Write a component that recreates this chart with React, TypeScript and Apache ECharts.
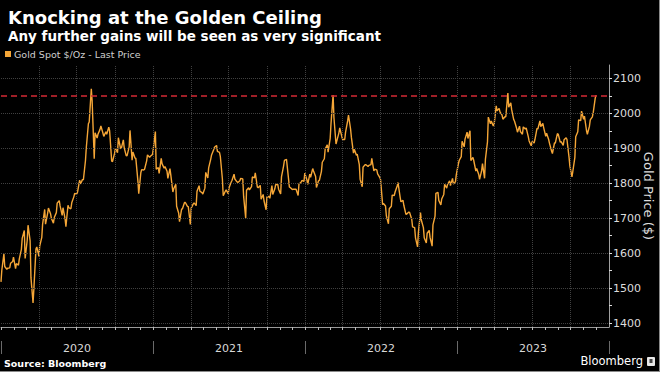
import React, { useEffect, useRef } from "react";
import * as echarts from "echarts";

// Gold spot $/oz, two readings per week (Wednesday, Friday), from week of 2020-01-01
const goldPrices: number[] = [
  // 2020
  1518, 1552, 1598, 1562, 1554, 1557, 1558, 1571, 1576, 1589,
  1556, 1570, 1566, 1584, 1611, 1643, 1665, 1585, 1637, 1680,
  1635, 1530, 1458, 1498, 1612, 1618, 1591, 1620, 1645, 1683,
  1725, 1683, 1714, 1729, 1713, 1700, 1686, 1702, 1716, 1743,
  1750, 1735, 1708, 1730, 1698, 1676, 1737, 1730, 1727, 1744,
  1761, 1771, 1769, 1775, 1809, 1798, 1811, 1810, 1865, 1902,
  1970, 1975, 2070, 2035, 1870, 1944, 1929, 1940, 1954, 1964,
  1943, 1934, 1947, 1940, 1960, 1950, 1863, 1862, 1886, 1900,
  1887, 1930, 1901, 1899, 1924, 1902, 1878, 1879, 1904, 1951,
  1866, 1889, 1872, 1871, 1806, 1770, 1830, 1839, 1838, 1840,
  1864, 1881, 1874, 1877, 1882, 1898,
  // 2021
  1948, 1840, 1845, 1828, 1871, 1856, 1843, 1848, 1834, 1814,
  1842, 1824, 1775, 1784, 1797, 1734, 1714, 1690, 1726, 1727,
  1745, 1745, 1734, 1733, 1682, 1729, 1741, 1744, 1736, 1777,
  1793, 1777, 1773, 1769, 1786, 1831, 1815, 1844, 1869, 1881,
  1896, 1903, 1908, 1891, 1888, 1877, 1812, 1764, 1777, 1781,
  1770, 1787, 1803, 1808, 1826, 1812, 1804, 1802, 1807, 1814,
  1812, 1763, 1700, 1780, 1787, 1781, 1790, 1818, 1815, 1830,
  1789, 1787, 1794, 1754, 1768, 1750, 1724, 1761, 1762, 1757,
  1793, 1768, 1784, 1796, 1797, 1783, 1769, 1818, 1849, 1865,
  1868, 1846, 1789, 1788, 1782, 1783, 1783, 1783, 1765, 1798,
  1803, 1808, 1805, 1829,
  // 2022
  1810, 1797, 1826, 1817, 1842, 1835, 1819, 1788, 1807, 1808,
  1834, 1860, 1870, 1898, 1910, 1889, 1928, 1970, 2052, 1988,
  1912, 1921, 1944, 1958, 1933, 1925, 1925, 1946, 1978, 1995,
  1955, 1931, 1886, 1897, 1880, 1883, 1853, 1811, 1790, 1846,
  1853, 1853, 1848, 1851, 1853, 1871, 1835, 1840, 1838, 1827,
  1817, 1811, 1739, 1742, 1735, 1707, 1684, 1727, 1734, 1766,
  1765, 1775, 1792, 1802, 1761, 1747, 1751, 1737, 1711, 1712,
  1718, 1716, 1697, 1675, 1673, 1644, 1618, 1660, 1716, 1695,
  1673, 1644, 1629, 1657, 1665, 1645, 1620, 1681, 1706, 1771,
  1774, 1751, 1738, 1755, 1768, 1797, 1786, 1797, 1807, 1793,
  1814, 1798, 1804, 1824,
  // 2023
  1855, 1865, 1876, 1920, 1904, 1926, 1946, 1928, 1950, 1865,
  1874, 1865, 1835, 1842, 1825, 1811, 1836, 1856, 1814, 1868,
  1918, 1989, 1970, 1978, 1964, 1969, 2021, 2007, 2014, 2004,
  1995, 1983, 1990, 1990, 2058, 2017, 2030, 2011, 1982, 1977,
  1957, 1946, 1963, 1948, 1940, 1961, 1955, 1958, 1933, 1921,
  1907, 1919, 1915, 1925, 1957, 1955, 1978, 1962, 1971, 1959,
  1934, 1943, 1925, 1914, 1892, 1885, 1915, 1915, 1942, 1940,
  1917, 1919, 1908, 1924, 1930, 1925, 1874, 1849, 1818, 1833,
  1874, 1933, 1947, 1981, 1979, 2006, 1983, 1992, 1950, 1940,
  1963, 1981, 1990, 2001, 2044, 2052,
];

const years = ["2020", "2021", "2022", "2023"];
const yTickValues = [1400, 1450, 1500, 1550, 1600, 1650, 1700, 1750, 1800, 1850, 1900, 1950, 2000, 2050, 2100];
const yLabelValues = [1400, 1500, 1600, 1700, 1800, 1900, 2000, 2100];
const ceilingLevel = 2050;
const yMin = 1389;
const yMax = 2138;

const DAY = 86400000;
const startMs = Date.UTC(2020, 0, 1);
const endMs = Date.UTC(2024, 0, 1);

const seriesData = goldPrices.map((v, i) => {
  const week = Math.floor(i / 2);
  const dayOffset = week * 7 + (i % 2 === 0 ? 0 : 2);
  return [startMs + dayOffset * DAY, v];
});

const monthTicks: number[] = [];
const quarterLines: number[] = [];
for (let y = 2020; y <= 2023; y++) {
  for (let m = 0; m < 12; m++) {
    const t = Date.UTC(y, m, 1);
    monthTicks.push(t);
    if (m % 3 === 0 && t > startMs) quarterLines.push(t);
  }
}

const FONT = "DejaVu Sans";

export default function App() {
  const ref = useRef<HTMLDivElement>(null);
  useEffect(() => {
    if (!ref.current) return;
    const chart = echarts.init(ref.current, undefined, { renderer: "svg" });
    const gridLine = { color: "#404040", type: "dotted" as const, width: 1 };
    chart.setOption({
      animation: false,
      backgroundColor: "#000000",
      textStyle: { fontFamily: FONT },
      title: [
        {
          text: "Knocking at the Golden Ceiling",
          left: 3,
          top: 3,
          textStyle: { color: "#ffffff", fontSize: 18, fontWeight: "bold", fontFamily: FONT },
        },
        {
          text: "Any further gains will be seen as very significant",
          left: 3,
          top: 24,
          textStyle: { color: "#ffffff", fontSize: 13.5, fontWeight: "bold", fontFamily: FONT },
        },
      ],
      legend: {
        left: 5,
        top: 49,
        icon: "rect",
        itemWidth: 6,
        itemHeight: 6,
        itemGap: 10,
        padding: 0,
        textStyle: { color: "#cfcfcf", fontSize: 9.5, fontFamily: FONT, padding: [0, 0, 0, -2] },
        data: ["Gold Spot $/Oz - Last Price"],
      },
      grid: { left: 1, right: 51, top: 65, bottom: 45, outerBoundsMode: "none" },
      xAxis: [
        {
          type: "time",
          min: startMs,
          max: endMs,
          axisLine: { show: true, lineStyle: { color: "#9a9a9a", width: 1 } },
          axisTick: { show: true, customValues: monthTicks, length: 3, lineStyle: { color: "#bbbbbb" } },
          axisLabel: { show: false },
          splitLine: { show: false },
        },
        {
          type: "category",
          data: years,
          position: "bottom",
          offset: 14,
          boundaryGap: true,
          axisLine: { show: false },
          axisTick: { show: true, length: 13, lineStyle: { color: "#6a6a6a" } },
          axisLabel: { color: "#d8d8d8", fontSize: 11, margin: 2, fontFamily: FONT },
          splitLine: { show: false },
        },
      ],
      yAxis: {
        type: "value",
        position: "right",
        min: yMin,
        max: yMax,
        axisLine: { show: true, lineStyle: { color: "#a0a0a0", width: 1 } },
        axisTick: { show: true, customValues: yTickValues, length: 3, lineStyle: { color: "#dddddd" } },
        axisLabel: {
          customValues: yLabelValues,
          color: "#dddddd",
          fontSize: 11,
          margin: 4,
          fontFamily: FONT,
          formatter: (v: number) => String(v),
        },
        splitLine: { show: false },
        name: "Gold Price ($)",
        nameLocation: "middle",
        nameRotate: -90,
        nameGap: 33,
        nameMoveOverlap: false,
        nameTextStyle: { color: "#dddddd", fontSize: 13, fontFamily: FONT },
      },
      series: [
        {
          name: "grid",
          type: "line",
          data: [],
          silent: true,
          markLine: {
            silent: true,
            symbol: ["none", "none"],
            label: { show: false },
            lineStyle: gridLine,
            data: [
              ...yLabelValues.map((v) => ({ yAxis: v })),
              ...quarterLines.map((t) => ({ xAxis: t })),
            ],
          },
        },
        {
          name: "Gold Spot $/Oz - Last Price",
          type: "line",
          data: seriesData,
          showSymbol: false,
          symbol: "none",
          color: "#f5a637",
          lineStyle: { color: "#f5a637", width: 1.4 },
          z: 3,
          markLine: {
            silent: true,
            symbol: ["none", "none"],
            label: { show: false },
            lineStyle: { color: "#d42a35", type: [6, 4], width: 1.6 },
            data: [{ yAxis: ceilingLevel }],
          },
        },
      ],
      graphic: [
        {
          type: "text",
          left: 4,
          top: 358,
          style: { text: "Source: Bloomberg", fill: "#ffffff", fontSize: 9.5, fontWeight: "bold", fontFamily: FONT },
        },
        {
          type: "text",
          right: 17,
          top: 355,
          style: { text: "Bloomberg", fill: "#ffffff", fontSize: 11.5, fontFamily: FONT },
        },
        {
          type: "rect",
          shape: { x: 647, y: 357, width: 8, height: 9, r: 1 },
          style: { fill: "#e8e8e8" },
        },
        {
          type: "rect",
          shape: { x: 649.5, y: 359, width: 3, height: 4 },
          style: { fill: "#444444" },
        },
        {
          type: "line",
          shape: { x1: 659.5, y1: 0, x2: 659.5, y2: 372 },
          style: { stroke: "#8a8a8a", lineWidth: 1 },
        },
        {
          type: "line",
          shape: { x1: 0, y1: 371.5, x2: 660, y2: 371.5 },
          style: { stroke: "#8a8a8a", lineWidth: 1 },
        },
      ],
    });
    return () => chart.dispose();
  }, []);
  return (
    <div
      ref={ref}
      style={{ position: "fixed", left: 0, top: 0, width: 660, height: 372, background: "#000" }}
    />
  );
}
